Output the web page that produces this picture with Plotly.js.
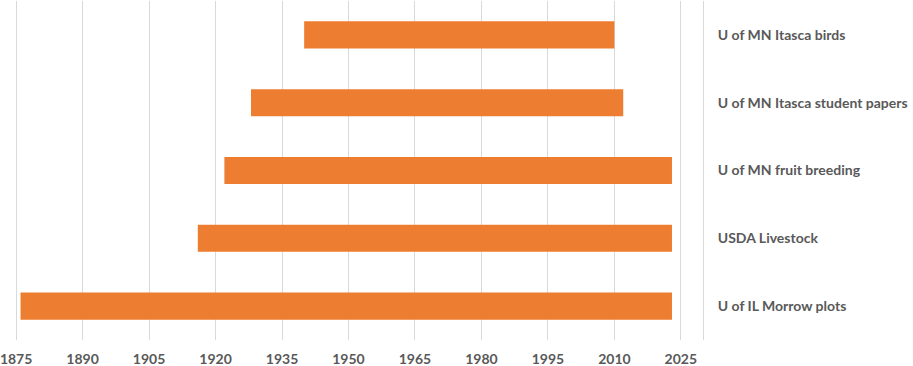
<!DOCTYPE html>
<html>
<head>
<meta charset="utf-8">
<script src="https://cdn.plot.ly/plotly-3.0.1.min.js"></script>
<style>
  html, body { margin: 0; padding: 0; background: #fff; }
  #chart { width: 913px; height: 366px; }
</style>
</head>
<body>
<div id="chart"></div>
<script>
// data sets, bottom to top
var datasets = ['U of IL Morrow plots', 'USDA Livestock', 'U of MN fruit breeding',
                'U of MN Itasca student papers', 'U of MN Itasca birds'];
var startYear = [1876, 1916, 1922, 1928, 1940];
var endYear = [2023, 2023, 2023, 2012, 2010];

var yearTicks = [1875, 1890, 1905, 1920, 1935, 1950, 1965, 1980, 1995, 2010, 2025];

var spans = endYear.map(function(e, i) { return e - startYear[i]; });

var trace = {
    type: 'bar',
    orientation: 'h',
    y: datasets,
    x: spans,
    base: startYear,
    width: 0.4,
    marker: { color: '#ED7D31' },
    hoverinfo: 'skip'
};

var layout = {
    width: 913,
    height: 366,
    margin: { l: 15, r: 210, t: 1, b: 26 },
    paper_bgcolor: '#fff',
    plot_bgcolor: '#fff',
    showlegend: false,
    xaxis: {
        range: [1874.75, 2030],
        tickvals: yearTicks,
        ticktext: yearTicks.map(String),
        showgrid: true,
        gridcolor: '#d9d9d9',
        gridwidth: 1,
        zeroline: false,
        showline: false,
        ticks: '',
        ticklabelstandoff: 9,
        ticklabeloverflow: 'allow',
        tickfont: { family: 'Lato, "Open Sans", sans-serif', size: 14, color: '#595959', weight: 'bold' }
    },
    yaxis: {
        side: 'right',
        type: 'category',
        categoryorder: 'array',
        categoryarray: datasets,
        showgrid: false,
        zeroline: false,
        showline: true,
        linecolor: '#d9d9d9',
        linewidth: 1,
        ticks: '',
        ticklabelstandoff: 11,
        tickfont: { family: 'Lato, "Open Sans", sans-serif', size: 14, color: '#595959', weight: 'bold' }
    }
};

Plotly.newPlot('chart', [trace], layout, { displayModeBar: false, staticPlot: true });
</script>
</body>
</html>
